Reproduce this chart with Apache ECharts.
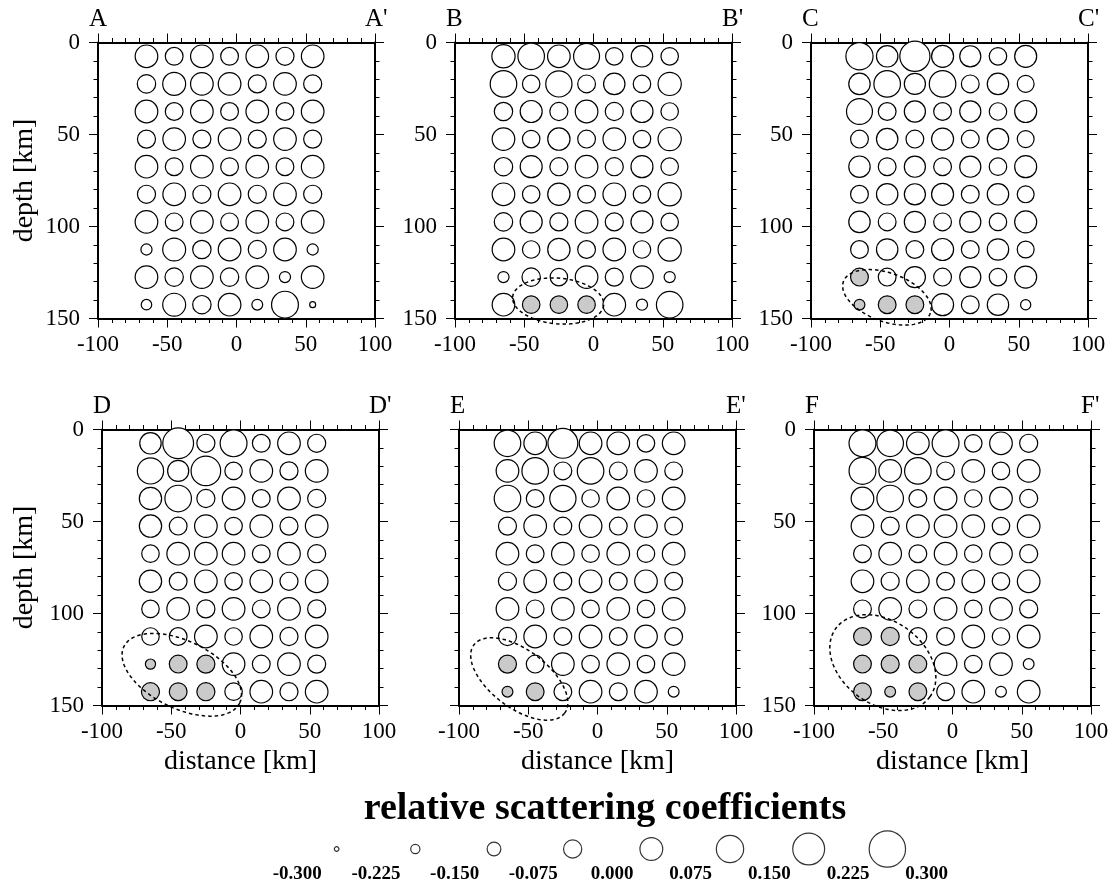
<!DOCTYPE html>
<html>
<head>
<meta charset="utf-8">
<script src="https://cdn.jsdelivr.net/npm/echarts@6/dist/echarts.min.js"></script>
<style>
  html, body { margin: 0; padding: 0; background: #fff; }
  #chart { width: 1112px; height: 886px; }
</style>
</head>
<body>
<div id="chart"></div>
<script>
// Grid nodes of every cross-section (km)
const DISTANCES = [-65, -45, -25, -5, 15, 35, 55];
const DEPTHS = [7.5, 22.5, 37.5, 52.5, 67.5, 82.5, 97.5, 112.5, 127.5, 142.5];

// Relative scattering coefficients, one row per depth (top to bottom), one column per distance
const COEF_A = [
  [0.035, -0.045, 0.035, -0.045, 0.035, -0.040, 0.035],
  [-0.035, 0.040, 0.035, 0.035, -0.040, 0.035, -0.040],
  [0.035, -0.045, 0.035, -0.045, 0.035, -0.045, 0.035],
  [-0.040, 0.035, -0.040, 0.035, -0.040, 0.035, -0.040],
  [0.035, -0.045, 0.035, -0.045, 0.035, -0.045, 0.035],
  [-0.040, 0.035, -0.040, 0.035, -0.040, 0.035, -0.040],
  [0.035, -0.045, 0.035, -0.045, 0.035, -0.045, 0.035],
  [-0.155, 0.040, -0.035, 0.035, -0.040, 0.035, -0.155],
  [0.035, -0.035, 0.035, -0.035, 0.035, -0.155, 0.035],
  [-0.165, 0.040, -0.035, 0.035, -0.160, 0.105, -0.240]
];
const COEF_B = [
  [0.045, 0.100, 0.035, 0.090, -0.050, 0.015, -0.050],
  [0.100, -0.050, 0.095, -0.045, 0.015, -0.050, 0.045],
  [-0.035, 0.025, -0.040, 0.035, -0.040, 0.025, -0.050],
  [0.035, -0.050, 0.030, -0.045, 0.035, -0.050, 0.045],
  [-0.035, 0.025, -0.040, 0.035, -0.040, 0.025, -0.050],
  [0.035, -0.050, 0.030, -0.045, 0.035, -0.050, 0.045],
  [-0.035, 0.025, -0.040, 0.035, -0.040, 0.025, -0.050],
  [0.035, -0.050, 0.030, -0.045, 0.035, -0.050, 0.045],
  [-0.155, -0.035, -0.050, 0.035, -0.040, 0.035, -0.155],
  [0.035, -0.050, -0.050, -0.050, 0.035, -0.155, 0.100]
];
const COEF_C = [
  [0.110, 0.015, 0.160, 0.025, 0.010, -0.050, 0.025],
  [0.015, 0.100, 0.010, 0.100, -0.045, 0.015, -0.060],
  [0.090, -0.045, 0.010, -0.045, 0.010, -0.050, 0.025],
  [-0.045, 0.015, -0.045, 0.025, -0.045, 0.015, -0.060],
  [0.015, -0.045, 0.010, -0.045, 0.010, -0.050, 0.025],
  [-0.045, 0.015, 0.010, 0.025, -0.045, 0.015, -0.060],
  [0.015, -0.045, 0.010, -0.045, 0.010, -0.050, 0.025],
  [-0.045, 0.015, -0.045, 0.025, -0.045, 0.015, -0.060],
  [-0.045, -0.045, 0.010, -0.045, 0.010, -0.050, 0.025],
  [-0.160, -0.045, -0.045, 0.025, -0.045, 0.015, -0.170]
];
const COEF_D = [
  [0.015, 0.170, -0.040, 0.105, -0.045, 0.035, -0.040],
  [0.095, 0.010, 0.150, -0.050, 0.035, -0.040, 0.035],
  [0.030, 0.100, -0.040, 0.035, -0.045, 0.035, -0.040],
  [0.030, -0.045, 0.035, -0.050, 0.035, -0.040, 0.035],
  [-0.050, 0.035, 0.035, 0.035, -0.045, 0.035, -0.040],
  [0.030, -0.045, 0.035, -0.050, 0.035, -0.040, 0.035],
  [-0.050, 0.035, -0.040, 0.035, -0.045, 0.035, -0.040],
  [-0.050, -0.045, 0.035, -0.050, 0.035, -0.040, 0.035],
  [-0.170, -0.045, -0.040, 0.035, -0.045, 0.035, -0.040],
  [-0.040, -0.045, -0.040, -0.050, 0.035, -0.040, 0.035]
];
const COEF_E = [
  [0.100, 0.035, 0.155, 0.035, 0.035, -0.050, 0.035],
  [0.035, 0.100, -0.045, 0.100, -0.045, 0.035, -0.045],
  [0.100, -0.045, 0.095, -0.050, 0.035, -0.050, 0.035],
  [-0.040, 0.035, -0.045, 0.035, -0.045, 0.035, -0.045],
  [0.035, -0.045, 0.035, -0.050, 0.035, -0.050, 0.035],
  [-0.040, 0.035, -0.045, 0.035, -0.045, 0.035, -0.045],
  [0.035, -0.045, 0.035, -0.050, 0.035, -0.050, 0.035],
  [-0.040, 0.035, -0.045, 0.035, -0.045, 0.035, -0.045],
  [-0.040, -0.045, 0.035, -0.050, 0.035, -0.050, 0.035],
  [-0.160, -0.045, -0.045, 0.035, -0.045, 0.035, -0.160]
];
const COEF_F = [
  [0.105, 0.100, 0.035, 0.105, -0.050, 0.035, -0.040],
  [0.105, 0.035, 0.100, -0.045, 0.035, -0.050, 0.035],
  [0.035, 0.100, -0.045, 0.035, -0.050, 0.035, -0.040],
  [0.035, -0.040, 0.035, 0.035, 0.035, -0.050, 0.035],
  [-0.045, 0.035, -0.045, 0.035, -0.050, 0.035, -0.040],
  [0.035, -0.040, 0.035, -0.045, 0.035, -0.050, 0.035],
  [-0.045, 0.035, -0.045, 0.035, -0.050, 0.035, -0.040],
  [-0.045, -0.040, -0.045, -0.045, 0.035, -0.050, 0.035],
  [-0.045, -0.040, -0.045, 0.035, -0.050, 0.035, -0.160],
  [-0.045, -0.160, -0.045, -0.045, 0.035, -0.160, 0.035]
];

// Highlighted nodes, as [column, row] indices
const SHADED_A = [];
const SHADED_B = [[1, 9], [2, 9], [3, 9]];
const SHADED_C = [[0, 8], [0, 9], [1, 9], [2, 9]];
const SHADED_D = [[0, 8], [1, 8], [2, 8], [0, 9], [1, 9], [2, 9]];
const SHADED_E = [[0, 8], [0, 9], [1, 9]];
const SHADED_F = [[0, 7], [1, 7], [0, 8], [1, 8], [2, 8], [0, 9], [1, 9], [2, 9]];

// Outlined anomaly: [centre distance, centre depth, half-width km, half-height km, tilt deg]
const ZONE_A = null;
const ZONE_B = [-25.5, 140.5, 33, 12.4, 5];
const ZONE_C = [-45.2, 138.5, 33.4, 13.2, 20];
const ZONE_D = [-42.4, 133.3, 46.5, 18.3, 26];
const ZONE_E = [-56.5, 135.6, 41, 15.7, 37];
const ZONE_F = [-50.3, 126.7, 42, 22.6, 36];

const PANEL_NAMES = ['A', 'B', 'C', 'D', 'E', 'F'];

// Size key
const KEY_TICKS = [-0.3, 0.3, 0.075];
const KEY_VALUES = [-0.2625, -0.1875, -0.1125, -0.0375, 0.0375, 0.1125, 0.1875, 0.2625];

const PANELS = [
  { coef: COEF_A, shaded: SHADED_A, zone: ZONE_A },
  { coef: COEF_B, shaded: SHADED_B, zone: ZONE_B },
  { coef: COEF_C, shaded: SHADED_C, zone: ZONE_C },
  { coef: COEF_D, shaded: SHADED_D, zone: ZONE_D },
  { coef: COEF_E, shaded: SHADED_E, zone: ZONE_E },
  { coef: COEF_F, shaded: SHADED_F, zone: ZONE_F }
];

// ---- layout & style ----
const FONT = '"Liberation Serif", "Times New Roman", serif';
const BOXES = [[98, 42.5], [455, 42.5], [811, 42.5], [102, 429.5], [459, 429.5], [814, 429.5]];
const BOX_W = 277, BOX_H = 276;
const SHOW_DEPTH_LABELS = [true, true, true, true, false, true];
const SHADE = '#cacaca';

const sizeOf = v => 20.5 + 60.5 * v;

const frameLine = { show: true, onZero: false, lineStyle: { color: '#000', width: 2 } };
const majorTick = { show: true, length: 9, lineStyle: { color: '#000', width: 1 } };
const minorTick = { show: true, splitNumber: 5, length: 4.5, lineStyle: { color: '#000', width: 1 } };

const grids = [], xAxes = [], yAxes = [], series = [], graphics = [];

PANELS.forEach((p, i) => {
  const [left, top] = BOXES[i];
  const bottomRow = i >= 3;
  grids.push({ left, top, width: BOX_W, height: BOX_H });

  const xBase = {
    gridIndex: i, type: 'value', min: -100, max: 100, interval: 50,
    axisLine: frameLine, axisTick: majorTick, minorTick,
    splitLine: { show: false }, minorSplitLine: { show: false }
  };
  xAxes.push(Object.assign({}, xBase, {
    position: 'bottom',
    axisLabel: { show: true, color: '#000', fontFamily: FONT, fontSize: 23, margin: 15 },
    name: bottomRow ? 'distance [km]' : '',
    nameLocation: 'middle', nameGap: 42,
    nameTextStyle: { color: '#000', fontFamily: FONT, fontSize: 28 }
  }));
  xAxes.push(Object.assign({}, xBase, { position: 'top', axisLabel: { show: false } }));

  const yBase = {
    gridIndex: i, type: 'value', min: 0, max: 150, interval: 50, inverse: true,
    axisLine: frameLine, axisTick: majorTick, minorTick,
    splitLine: { show: false }, minorSplitLine: { show: false }
  };
  yAxes.push(Object.assign({}, yBase, {
    position: 'left',
    axisLabel: { show: SHOW_DEPTH_LABELS[i], color: '#000', fontFamily: FONT, fontSize: 23, margin: 18 },
    name: i % 3 === 0 ? 'depth [km]' : '',
    nameLocation: 'middle', nameRotate: 90, nameGap: i === 0 ? 59 : 63,
    nameTextStyle: { color: '#000', fontFamily: FONT, fontSize: 28 }
  }));
  yAxes.push(Object.assign({}, yBase, { position: 'right', axisLabel: { show: false } }));

  const shadedSet = new Set(p.shaded.map(([c, r]) => c + ',' + r));
  const data = [];
  p.coef.forEach((row, r) => row.forEach((v, c) => {
    data.push({
      value: [DISTANCES[c], DEPTHS[r], v],
      itemStyle: { color: shadedSet.has(c + ',' + r) ? SHADE : '#fff' }
    });
  }));
  series.push({
    type: 'scatter', xAxisIndex: 2 * i, yAxisIndex: 2 * i,
    symbol: 'circle', symbolSize: val => sizeOf(val[2]),
    itemStyle: { borderColor: '#000', borderWidth: 1.2, opacity: 1 },
    emphasis: { disabled: true }, silent: true, clip: false, z: 3,
    data
  });

  if (p.zone) {
    series.push({
      type: 'custom', xAxisIndex: 2 * i, yAxisIndex: 2 * i, clip: false, silent: true, z: 5,
      data: [p.zone],
      renderItem: (params, api) => {
        const c = api.coord([api.value(0), api.value(1)]);
        const sx = Math.abs(api.size([api.value(2), 0])[0]);
        const sy = Math.abs(api.size([0, api.value(3)])[1]);
        const th = api.value(4) * Math.PI / 180;
        const pts = [];
        for (let k = 0; k <= 120; k++) {
          const t = k / 120 * 2 * Math.PI;
          const lx = sx * Math.cos(t), ly = sy * Math.sin(t);
          pts.push([c[0] + lx * Math.cos(th) - ly * Math.sin(th),
                    c[1] + lx * Math.sin(th) + ly * Math.cos(th)]);
        }
        return {
          type: 'polyline', shape: { points: pts },
          style: { fill: 'none', stroke: '#000', lineWidth: 1.5, lineDash: [3.5, 3] }
        };
      }
    });
  }

  graphics.push({
    type: 'text', left: left - 9, top: top - 36,
    style: { text: PANEL_NAMES[i], font: '25px ' + FONT, fill: '#000' }
  });
  graphics.push({
    type: 'text', left: left + BOX_W - 10, top: top - 36,
    style: { text: PANEL_NAMES[i] + "'", font: '25px ' + FONT, fill: '#000' }
  });
});

// Size key below the panels
const K = PANELS.length;
grids.push({ left: 297.3, top: 840, width: 629.4, height: 18 });
xAxes.push({
  gridIndex: K, type: 'value', min: KEY_TICKS[0], max: KEY_TICKS[1], interval: KEY_TICKS[2],
  axisLine: { show: false }, axisTick: { show: false }, splitLine: { show: false },
  axisLabel: {
    show: true, color: '#000', fontFamily: FONT, fontSize: 19, fontWeight: 'bold', margin: 7,
    showMinLabel: true, showMaxLabel: true,
    formatter: v => (Math.abs(v) < 1e-9 ? 0 : v).toFixed(3)
  }
});
yAxes.push({ gridIndex: K, type: 'value', min: 0, max: 1, show: false });
series.push({
  type: 'scatter', xAxisIndex: 2 * K, yAxisIndex: 2 * K,
  symbol: 'circle', symbolSize: val => sizeOf(val[2]),
  itemStyle: { color: '#fff', borderColor: '#000', borderWidth: 1.2 },
  emphasis: { disabled: true }, silent: true, clip: false,
  data: KEY_VALUES.map(v => [v, 0.5, v])
});
graphics.push({
  type: 'text', x: 605, y: 809,
  style: {
    text: 'relative scattering coefficients', font: 'bold 38px ' + FONT,
    fill: '#000', align: 'center', verticalAlign: 'middle'
  }
});

const chart = echarts.init(document.getElementById('chart'), null, { renderer: 'canvas' });
chart.setOption({
  animation: false,
  backgroundColor: '#fff',
  textStyle: { fontFamily: FONT },
  grid: grids,
  xAxis: xAxes,
  yAxis: yAxes,
  series,
  graphic: graphics
});
</script>
</body>
</html>
